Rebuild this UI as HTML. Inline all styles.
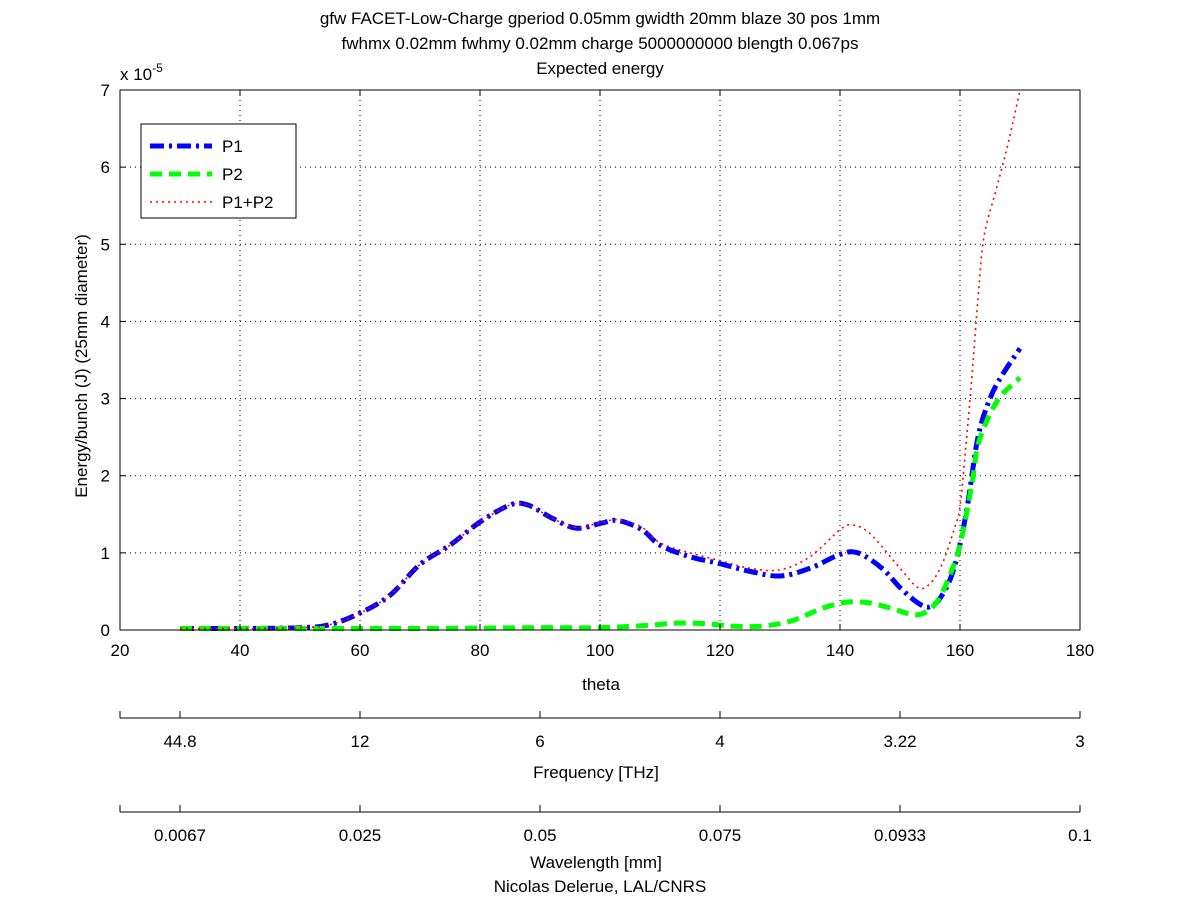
<!DOCTYPE html>
<html><head><meta charset="utf-8"><style>
body{margin:0;background:#fff}
svg{font-family:"Liberation Sans",sans-serif;}
</style></head><body>
<svg id="c" width="1200" height="901" viewBox="0 0 1200 901">
<rect width="1200" height="901" fill="#fff"/>
<g id="grid"></g>
<g id="series"></g>
<g id="axes"></g>
</svg>
<script>
const xTicks=[20,40,60,80,100,120,140,160,180];
const yTicks=[0,1,2,3,4,5,6,7];
const freqLabels=["44.8","12","6","4","3.22","3"];
const waveLabels=["0.0067","0.025","0.05","0.075","0.0933","0.1"];
const secTheta=[30,60,90,120,150,180];
const p1Theta=[30,40,50,55,60,65,70,75,80,85,88,92,96,100,103,107,110,115,120,125,130,135,140,143,147,150,153,155,157,159,161,163,165,167,170];
const p1Vals=[0.02,0.02,0.03,0.07,0.22,0.45,0.85,1.1,1.4,1.62,1.62,1.45,1.32,1.38,1.42,1.3,1.1,0.95,0.86,0.76,0.7,0.8,0.98,1.0,0.8,0.55,0.35,0.3,0.45,0.8,1.5,2.5,3.0,3.3,3.65];
const p2Theta=[30,50,70,90,100,108,113,118,122,127,132,137,141,145,149,152,154,156,158,160,162,163,165,167,170];
const p2Vals=[0.02,0.02,0.02,0.03,0.03,0.06,0.09,0.08,0.05,0.05,0.12,0.28,0.36,0.35,0.27,0.2,0.22,0.35,0.65,1.1,1.9,2.4,2.8,3.05,3.27];
const sumTheta=[30,40,50,55,60,65,70,75,80,85,88,92,96,100,103,107,110,115,120,125,130,135,140,142,145,150,153,155,157,159,160,161,162,163,164,166,168,170];
const sumVals=[0.02,0.02,0.03,0.07,0.22,0.45,0.85,1.1,1.4,1.62,1.62,1.45,1.33,1.39,1.43,1.33,1.13,1.0,0.9,0.8,0.78,0.95,1.3,1.36,1.25,0.8,0.55,0.6,0.85,1.3,1.6,2.4,3.3,4.3,5.1,5.7,6.3,7.0];

const X0=120,X1=1080,Y0=630,Y1=90;
const xs=v=>X0+(v-20)/160*(X1-X0);
const ys=v=>Y0-v/7*(Y0-Y1);
const NS="http://www.w3.org/2000/svg";
function mk(tag,attrs,parent,text){const e=document.createElementNS(NS,tag);for(const k in attrs)e.setAttribute(k,attrs[k]);if(text!==undefined)e.textContent=text;parent.appendChild(e);return e;}
const grid=document.getElementById('grid'),axes=document.getElementById('axes'),ser=document.getElementById('series');

xTicks.forEach(t=>{const x=xs(t);
 if(t>20&&t<180){const l=mk('line',{x1:x,y1:Y1,x2:x,y2:Y0,stroke:'#000','stroke-dasharray':'1 4','stroke-width':1},grid);}
 const tk=mk('line',{x1:x,y1:Y0,x2:x,y2:Y0-6,stroke:'#000'},axes);
 const tk2=mk('line',{x1:x,y1:Y1,x2:x,y2:Y1+6,stroke:'#000'},axes);
 const lb=mk('text',{x:x,y:Y0+26,'text-anchor':'middle','font-size':17},axes,String(t));
});
yTicks.forEach(t=>{const y=ys(t);
 if(t>0&&t<7){const l=mk('line',{x1:X0,y1:y,x2:X1,y2:y,stroke:'#000','stroke-dasharray':'1 4','stroke-width':1},grid);}
 const tk=mk('line',{x1:X0,y1:y,x2:X0+6,y2:y,stroke:'#000'},axes);
 const tk2=mk('line',{x1:X1,y1:y,x2:X1-6,y2:y,stroke:'#000'},axes);
 const lb=mk('text',{x:X0-10,y:y+6,'text-anchor':'end','font-size':17},axes,String(t));
});
const fr=mk('rect',{x:X0,y:Y1,width:X1-X0,height:Y0-Y1,fill:'none',stroke:'#000'},axes);


function path(th,vals){const p=th.map((t,i)=>[xs(t),ys(vals[i])]);let d=`M${p[0][0]},${p[0][1]}`;
 for(let i=0;i<p.length-1;i++){const a=p[Math.max(0,i-1)],b=p[i],c=p[i+1],e=p[Math.min(p.length-1,i+2)];
  d+=` C${b[0]+(c[0]-a[0])/6},${b[1]+(c[1]-a[1])/6} ${c[0]-(e[0]-b[0])/6},${c[1]-(e[1]-b[1])/6} ${c[0]},${c[1]}`;}
 return d;}
const s1=mk('path',{d:path(p1Theta,p1Vals),fill:'none',stroke:'#0000ff','stroke-width':5,'stroke-dasharray':'14 5 3 5'},ser);

const s2=mk('path',{d:path(p2Theta,p2Vals),fill:'none',stroke:'#00ff00','stroke-width':5,'stroke-dasharray':'12 7'},ser);

const s3=mk('path',{d:path(sumTheta,sumVals),fill:'none',stroke:'#ff0000','stroke-width':1.6,'stroke-dasharray':'2 4'},ser);


function secAxis(yl,labels,title,ty,nm){
 const l=mk('line',{x1:X0,y1:yl,x2:X1,y2:yl,stroke:'#000'},axes);
 secTheta.forEach((t,i)=>{const x=xs(t);
  const tk=mk('line',{x1:x,y1:yl,x2:x,y2:yl-7,stroke:'#000'},axes);
  const lb=mk('text',{x:x,y:yl+29,'text-anchor':'middle','font-size':17},axes,labels[i]);});
 const tk0=mk('line',{x1:X0,y1:yl,x2:X0,y2:yl-7,stroke:'#000'},axes);
 const tt=mk('text',{x:596,y:ty,'text-anchor':'middle','font-size':17},axes,title);
}
secAxis(718,freqLabels,'Frequency [THz]',778,'frequency');
secAxis(812,waveLabels,'Wavelength [mm]',868,'wavelength');
</script>
<svg style="position:absolute;left:0;top:0" width="1200" height="901">
<g font-family="Liberation Sans, sans-serif" font-size="17" fill="#000">
<text x="600" y="24" text-anchor="middle">gfw FACET-Low-Charge gperiod 0.05mm gwidth 20mm blaze 30 pos 1mm</text>
<text x="600" y="49" text-anchor="middle">fwhmx 0.02mm fwhmy 0.02mm charge 5000000000 blength 0.067ps</text>
<text x="600" y="74" text-anchor="middle">Expected energy</text>
<text x="120" y="80">x 10<tspan font-size="12" dy="-8">-5</tspan></text>
<text x="601" y="690" text-anchor="middle">theta</text>
<text transform="translate(87,366) rotate(-90)" text-anchor="middle">Energy/bunch (J) (25mm diameter)</text>
<text x="600" y="892" text-anchor="middle">Nicolas Delerue, LAL/CNRS</text>
</g>
<g>
<rect x="141" y="124" width="155" height="94" fill="#fff" stroke="#000"/>
<line x1="150" y1="146" x2="212" y2="146" stroke="#0000ff" stroke-width="5" stroke-dasharray="14 5 3 5"/>
<line x1="150" y1="174" x2="212" y2="174" stroke="#00ff00" stroke-width="5" stroke-dasharray="12 7"/>
<line x1="150" y1="202" x2="212" y2="202" stroke="#ff0000" stroke-width="1.6" stroke-dasharray="2 4"/>
<g font-family="Liberation Sans, sans-serif" font-size="17">
<text x="222" y="152">P1</text>
<text x="222" y="180">P2</text>
<text x="222" y="208">P1+P2</text>
</g>
</g>
</svg>
</body></html>
